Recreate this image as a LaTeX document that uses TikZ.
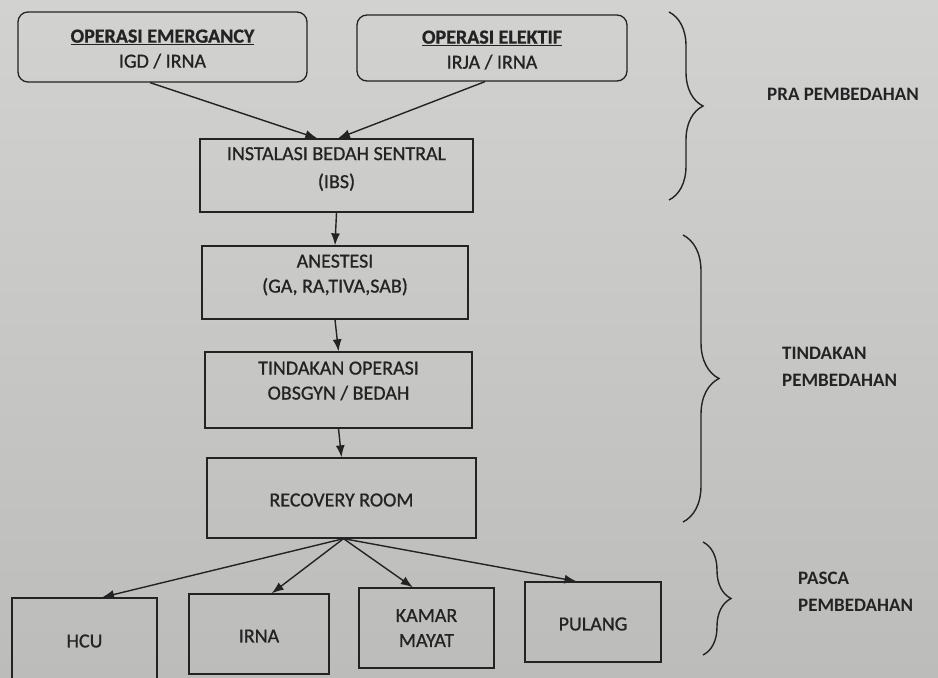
\documentclass[tikz,border=0pt]{standalone}
\usepackage{fontspec}
\setmainfont{Carlito}
\usetikzlibrary{arrows.meta,calc,decorations.pathreplacing}
\definecolor{ink}{RGB}{35,35,35}
\definecolor{bgtop}{RGB}{210,210,208}
\definecolor{bgbot}{RGB}{188,188,186}
\tikzset{
  box/.style={draw=ink,line width=1.3pt,minimum width=#1,inner sep=0pt},
  rbox/.style={draw=ink,line width=1.3pt,rounded corners=10pt,inner sep=0pt},
  txt/.style={text=ink,font=\fontsize{20}{25}\selectfont\addfontfeature{FakeBold=0.8},align=center,inner sep=0pt},
  side/.style={text=ink,font=\fontsize{19}{27}\selectfont\bfseries,align=left,inner sep=0pt,anchor=west},
  arr/.style={draw=ink,line width=1.4pt,-{Latex[length=12pt,width=9pt]}},
  brc/.style={draw=ink,line width=1.4pt,decorate,decoration={brace,amplitude=#1,aspect=0.5}}
}
\begin{document}
\begin{tikzpicture}[x=1pt,y=-1pt]
\useasboundingbox (0,0) rectangle (938,678);
\fill[top color=bgtop,bottom color=bgbot] (0,0) rectangle (938,678);
% top boxes
\node[rbox,minimum width=289pt,minimum height=70pt] (em) at (162.5,47) {};
\node[txt] (emt) at (162.5,49) {\textbf{\underline{OPERASI EMERGANCY}}\\IGD / IRNA};
\node[rbox,minimum width=270pt,minimum height=66pt] (el) at (492,48) {};
\node[txt] (elt) at (492,50) {\textbf{\underline{OPERASI ELEKTIF}}\\IRJA / IRNA};
% column
\node[box=273pt,minimum height=73pt] (ibs) at (336.5,175.5) {};
\node[txt,font=\fontsize{20}{28}\selectfont\addfontfeature{FakeBold=0.8}] (ibst) at (336.5,169) {INSTALASI BEDAH SENTRAL\\(IBS)};
\node[box=266pt,minimum height=73pt] (ane) at (335,282.5) {};
\node[txt] (anet) at (335,275) {ANESTESI\\(GA, RA,TIVA,SAB)};
\node[box=267pt,minimum height=76pt] (tin) at (338.5,390) {};
\node[txt] (tint) at (338.5,381) {TINDAKAN OPERASI\\OBSGYN / BEDAH};
\node[box=269pt,minimum height=80pt] (rec) at (341.5,498) {};
\node[txt] (rect) at (341.5,500) {RECOVERY ROOM};
% bottom boxes
\node[box=145pt,minimum height=84pt] (hcu) at (84.5,640) {};
\node[txt] (hcut) at (84.5,641) {HCU};
\node[box=140pt,minimum height=80pt] (irna) at (259,634) {};
\node[txt] (irnat) at (259,636) {IRNA};
\node[box=135pt,minimum height=80pt] (km) at (426.5,628) {};
\node[txt] (kmt) at (426.5,628) {KAMAR\\MAYAT};
\node[box=136pt,minimum height=80pt] (pul) at (593,622) {};
\node[txt] (pult) at (593,624) {PULANG};
% arrows
\draw[arr] ($(em.south west)!0.457!(em.south east)$) -- ($(ibs.north west)!0.43!(ibs.north east)$);
\draw[arr] ($(el.south west)!0.474!(el.south east)$) -- ($(ibs.north west)!0.505!(ibs.north east)$);
\draw[arr] (ibs.south) -- (ane.north);
\draw[arr] (ane.south) -- (tin.north);
\draw[arr] (tin.south) -- (rec.north);
\coordinate (fan) at ($(rec.south)+(2,0)$);
\draw[arr] (fan) -- ($(hcu.north west)!0.62!(hcu.north east)$);
\draw[arr] (fan) -- ($(irna.north west)!0.59!(irna.north east)$);
\draw[arr] (fan) -- ($(km.north west)!0.40!(km.north east)$);
\draw[arr] (fan) -- ($(pul.north west)!0.38!(pul.north east)$);
% braces
\coordinate (b1a) at (669,12); \coordinate (b1b) at (669,200);
\draw[brc=34pt] (b1a) -- (b1b);
\coordinate (b2a) at (683,235); \coordinate (b2b) at (683,522);
\draw[brc=36pt] (b2a) -- (b2b);
\coordinate (b3a) at (703,542); \coordinate (b3b) at (703,655);
\draw[brc=28pt] (b3a) -- (b3b);
\node[side] (s1) at (767,94) {PRA PEMBEDAHAN};
\node[side] (s2) at (782,367) {TINDAKAN\\PEMBEDAHAN};
\node[side] (s3) at (798,592) {PASCA\\PEMBEDAHAN};
\end{tikzpicture}
\end{document}
